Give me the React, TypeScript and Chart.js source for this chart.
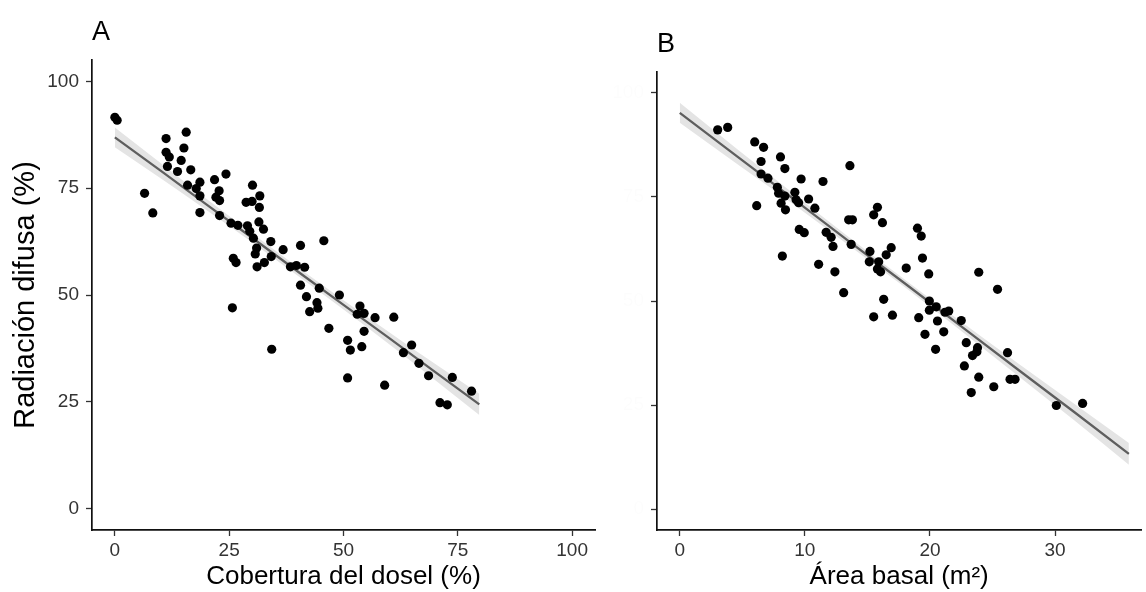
import React, { useEffect, useRef } from 'react';
import { Chart, registerables } from 'chart.js';

Chart.register(...registerables);

const FONT = '"Liberation Sans", Arial, sans-serif';

// Panel A: Cobertura del dosel (%) vs Radiación difusa (%)
const coberturaX = [
  0, 0.5, 6.5, 8.3, 11.2, 11.2, 11.9, 11.5, 13.7, 14.5, 15.1, 15.6, 15.9, 16.6, 17.8, 18.6, 18.6, 18.6,
  21.8, 22.1, 22.8, 22.9, 22.9, 24.3, 25.4, 25.7, 25.9, 26.5, 26.9, 28.7, 29.0, 29.5, 30.0, 30.1, 30.3,
  30.7, 31.0, 31.1, 31.5, 31.6, 31.7, 32.5, 32.7, 34.1, 34.2, 34.3, 36.8, 38.4, 39.7, 40.6, 40.6, 41.5,
  41.9, 42.6, 44.2, 44.4, 44.7, 45.7, 46.8, 49.1, 50.9, 50.9, 51.5, 53.0, 53.6, 54.0, 54.5, 54.5, 56.9,
  59.0, 61.0, 63.1, 64.9, 66.5, 68.6, 71.1, 72.7, 73.8, 78.0,
];
const radiacionA = [
  91.6, 90.9, 73.8, 69.2, 86.6, 83.4, 82.3, 80.1, 78.9, 81.5, 84.4, 88.1, 75.7, 79.3, 74.9, 76.4, 73.2, 69.3,
  77.0, 72.9, 74.4, 72.1, 68.6, 78.3, 66.8, 47.0, 58.6, 57.6, 66.3, 71.7, 66.2, 64.9, 71.9, 75.7, 63.3,
  59.6, 61.0, 56.6, 67.1, 70.5, 73.2, 65.4, 57.6, 62.5, 59.0, 37.3, 60.6, 56.6, 56.9, 61.6, 52.3, 56.5,
  49.6, 46.1, 48.2, 46.9, 51.6, 62.7, 42.2, 50.0, 39.4, 30.6, 37.1, 45.5, 47.4, 37.9, 45.7, 41.5, 44.7,
  28.9, 44.8, 36.5, 38.3, 34.0, 31.1, 24.8, 24.3, 30.7, 27.5,
];
const fitAX = [0, 10, 20, 30, 40, 50, 60, 70, 79.7];
const fitAY = [86.9, 79.1, 71.2, 63.4, 55.5, 47.7, 39.9, 32.0, 24.4];
const fitALower = [84.6, 77.3, 69.9, 62.35, 54.5, 46.6, 38.5, 30.1, 21.9];
const fitAUpper = [89.2, 80.9, 72.5, 64.45, 56.5, 48.8, 41.3, 33.9, 26.9];

// Panel B: Área basal (m²) vs Radiación difusa (%)
const areaBasalX = [
  3.03, 3.83, 5.99, 6.7, 8.05, 6.5, 8.4, 6.5, 7.05, 9.7, 11.45, 13.6, 7.8, 7.9, 8.4, 9.2, 9.3, 9.5, 10.3,
  8.1, 8.45, 10.8, 6.15, 9.55, 9.95, 8.2, 11.7, 12.1, 12.25, 11.1, 12.4, 13.5, 13.8, 13.7, 15.8, 15.5,
  16.2, 16.9, 16.5, 15.2, 15.15, 15.9, 15.8, 16.05, 13.1, 19.3, 19.0, 19.4, 18.1, 19.9, 23.9, 25.4, 16.3,
  15.5, 17.0, 19.95, 20.5, 19.95, 21.2, 21.5, 19.1, 20.6, 22.5, 19.6, 21.1, 20.45, 22.9, 23.8, 23.75,
  23.4, 26.2, 22.75, 23.9, 25.1, 23.3, 26.4, 26.8, 30.1, 32.2,
];
const radiacionB = [
  91.1, 91.7, 88.2, 86.9, 84.6, 83.5, 81.8, 80.5, 79.5, 79.3, 78.7, 82.5, 77.3, 75.9, 75.2, 76.1, 74.3, 73.6, 74.5,
  73.5, 71.9, 72.3, 72.9, 67.2, 66.4, 60.8, 66.5, 65.3, 63.1, 58.8, 57.0, 69.5, 69.5, 63.6, 72.5, 70.7,
  68.8, 62.8, 61.1, 61.9, 59.4, 59.4, 57.7, 57.0, 52.0, 65.6, 67.5, 60.3, 57.9, 56.5, 56.9, 52.8, 50.4,
  46.2, 46.6, 50.0, 48.6, 47.8, 47.3, 47.6, 46.0, 45.2, 45.3, 42.0, 42.6, 38.4, 40.0, 38.8, 37.8,
  36.9, 37.6, 34.4, 31.7, 29.4, 28.0, 31.2, 31.2, 24.9, 25.4,
];
const fitBX = [0, 4.5, 9, 13.5, 18, 22.5, 27, 31.5, 35.9];
const fitBY = [95.2, 84.9, 74.7, 64.4, 54.2, 43.9, 33.6, 23.4, 13.3];
const fitBLower = [92.8, 83.1, 73.4, 63.4, 53.3, 42.8, 32.1, 21.4, 10.7];
const fitBUpper = [97.6, 86.7, 76.0, 65.4, 55.1, 45.0, 35.1, 25.4, 15.9];

const yTicks = [0, 25, 50, 75, 100];
const xTicksA = [0, 25, 50, 75, 100];
const xTicksB = [0, 10, 20, 30];

const zip = (xs: number[], ys: number[]) => xs.map((x, i) => ({ x, y: ys[i] }));

const panelLabelPlugin = {
  id: 'panelLabel',
  afterDraw(chart: any, _args: any, opts: any) {
    const { ctx, chartArea } = chart;
    ctx.save();
    ctx.font = `${opts.size}px ${FONT}`;
    ctx.fillStyle = '#000';
    ctx.textBaseline = 'alphabetic';
    ctx.textAlign = 'left';
    ctx.fillText(opts.text, chartArea.left + opts.dx, chartArea.top + opts.dy);
    ctx.restore();
  },
};

interface PanelSpec {
  xs: number[];
  ys: number[];
  fx: number[];
  fy: number[];
  lo: number[];
  hi: number[];
  xMin: number;
  xMax: number;
  xTicks: number[];
  xTitle: string;
  yTitle: string | null;
  yWidth: number;
  yTickColor: string;
  padTop: number;
  padRight: number;
  label: string;
}

function buildConfig(p: PanelSpec): any {
  return {
    type: 'scatter',
    data: {
      datasets: [
        {
          data: zip(p.xs, p.ys),
          pointRadius: 4.6,
          pointHoverRadius: 4.6,
          pointBackgroundColor: '#000',
          pointBorderWidth: 0,
          showLine: false,
          order: 0,
        },
        {
          type: 'line',
          data: zip(p.fx, p.fy),
          borderColor: '#5e5e5e',
          borderWidth: 2.3,
          pointRadius: 0,
          showLine: true,
          fill: false,
          order: 1,
        },
        {
          type: 'line',
          data: zip(p.fx, p.hi),
          borderWidth: 0,
          borderColor: 'rgba(0,0,0,0)',
          backgroundColor: '#e4e4e4',
          pointRadius: 0,
          showLine: true,
          cubicInterpolationMode: 'monotone',
          fill: '+1',
          order: 2,
        },
        {
          type: 'line',
          data: zip(p.fx, p.lo),
          borderWidth: 0,
          borderColor: 'rgba(0,0,0,0)',
          pointRadius: 0,
          showLine: true,
          cubicInterpolationMode: 'monotone',
          fill: false,
          order: 3,
        },
      ],
    },
    options: {
      responsive: false,
      animation: false,
      devicePixelRatio: 1,
      events: [],
      layout: { padding: { top: p.padTop, right: p.padRight, bottom: 0, left: 0 } },
      plugins: {
        legend: { display: false },
        tooltip: { enabled: false },
        title: { display: false },
        panelLabel: { text: p.label, size: 27, dx: 0, dy: -20 },
      },
      scales: {
        x: {
          type: 'linear',
          min: p.xMin,
          max: p.xMax,
          afterBuildTicks: (s: any) => {
            s.ticks = p.xTicks.map((v) => ({ value: v }));
          },
          afterFit: (s: any) => {
            s.height = 62;
          },
          grid: {
            drawOnChartArea: false,
            drawTicks: true,
            tickLength: 6,
            tickColor: '#333',
            tickWidth: 1.3,
          },
          border: { display: true, color: '#111', width: 1.7 },
          ticks: {
            color: '#333',
            font: { family: FONT, size: 19 },
            padding: 3,
            maxRotation: 0,
            autoSkip: false,
          },
          title: {
            display: true,
            text: p.xTitle,
            color: '#000',
            font: { family: FONT, size: 26 },
            padding: { top: 0, bottom: 0 },
          },
        },
        y: {
          type: 'linear',
          min: -5,
          max: 105,
          afterBuildTicks: (s: any) => {
            s.ticks = yTicks.map((v) => ({ value: v }));
          },
          afterFit: (s: any) => {
            s.width = p.yWidth;
          },
          grid: {
            drawOnChartArea: false,
            drawTicks: true,
            tickLength: 6,
            tickColor: '#333',
            tickWidth: 1.3,
          },
          border: { display: true, color: '#111', width: 1.7 },
          ticks: {
            color: p.yTickColor,
            font: { family: FONT, size: 19 },
            padding: 7,
            autoSkip: false,
          },
          title: {
            display: p.yTitle !== null,
            text: p.yTitle ?? '',
            color: '#000',
            font: { family: FONT, size: 29 },
            padding: { top: 9, bottom: 0 },
          },
        },
      },
    },
    plugins: [panelLabelPlugin],
  };
}

export default function App() {
  const refA = useRef<HTMLCanvasElement>(null);
  const refB = useRef<HTMLCanvasElement>(null);

  useEffect(() => {
    if (!refA.current || !refB.current) return;
    const a = new Chart(
      refA.current,
      buildConfig({
        xs: coberturaX,
        ys: radiacionA,
        fx: fitAX,
        fy: fitAY,
        lo: fitALower,
        hi: fitAUpper,
        xMin: -5,
        xMax: 105,
        xTicks: xTicksA,
        xTitle: 'Cobertura del dosel (%)',
        yTitle: 'Radiación difusa (%)',
        yWidth: 92,
        yTickColor: '#333',
        padTop: 60,
        padRight: 15,
        label: 'A',
      })
    );
    const b = new Chart(
      refB.current,
      buildConfig({
        xs: areaBasalX,
        ys: radiacionB,
        fx: fitBX,
        fy: fitBY,
        lo: fitBLower,
        hi: fitBUpper,
        xMin: -1.82,
        xMax: 36.9,
        xTicks: xTicksB,
        xTitle: 'Área basal (m²)',
        yTitle: null,
        yWidth: 57,
        yTickColor: 'rgba(0,0,0,0.012)',
        padTop: 72,
        padRight: 0,
        label: 'B',
      })
    );
    return () => {
      a.destroy();
      b.destroy();
    };
  }, []);

  return (
    <div
      style={{
        position: 'fixed',
        left: 0,
        top: 0,
        width: 1146,
        height: 592,
        background: '#fff',
        overflow: 'hidden',
      }}
    >
      <canvas
        ref={refA}
        width={610}
        height={592}
        style={{ position: 'absolute', left: 0, top: 0, width: 610, height: 592 }}
      />
      <canvas
        ref={refB}
        width={546}
        height={592}
        style={{ position: 'absolute', left: 600, top: 0, width: 546, height: 592 }}
      />
    </div>
  );
}
